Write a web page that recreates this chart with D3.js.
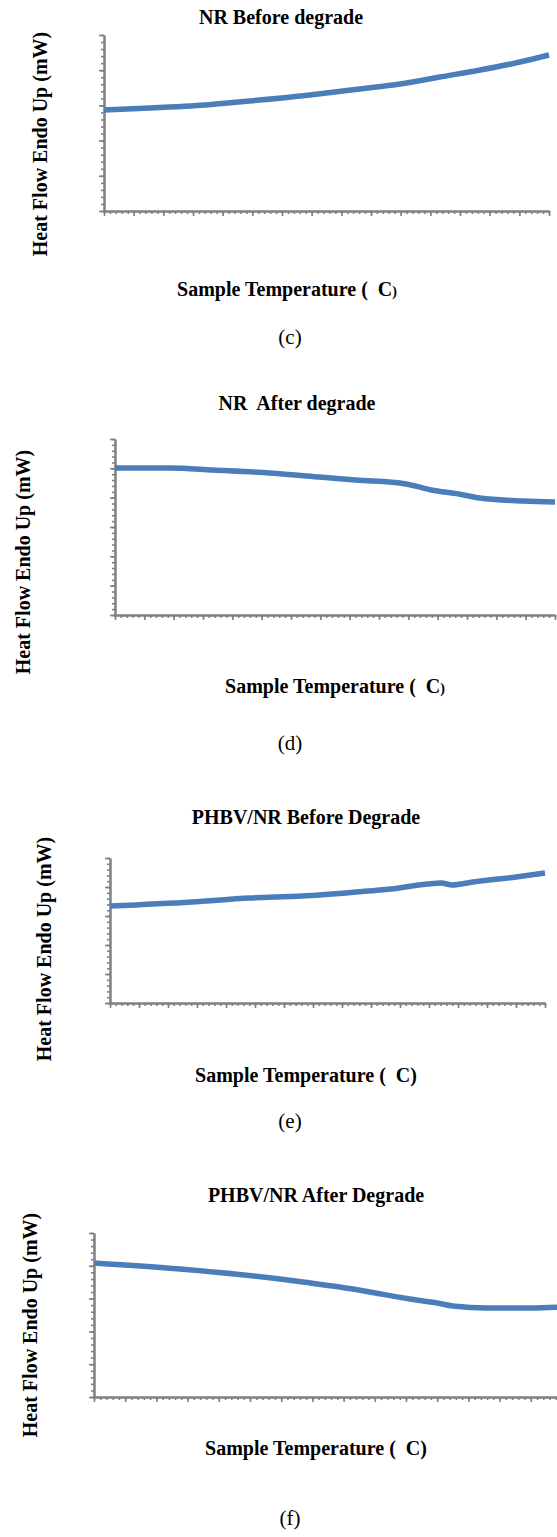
<!DOCTYPE html>
<html>
<head>
<meta charset="utf-8">
<script src="https://cdn.jsdelivr.net/npm/d3@7"></script>
<style>
  body { margin: 0; background: #fff; }
  text { font-family: "Liberation Serif", "Times New Roman", serif; fill: #000; white-space: pre; }
</style>
</head>
<body>
<div id="chart"></div>
<script>
// DSC traces (x in minor-tick units, y in minor-tick units)
const tempC = [0, 7.75, 14.5, 24.6, 34.7, 43.1, 49.9, 56.6, 63.4, 70.1, 75];
const flowC = [14.35, 14.63, 14.91, 15.63, 16.48, 17.33, 18.04, 19.03, 20.03, 21.16, 22.16];

const tempD = [0, 9.5, 16.7, 26.4, 34.9, 41.0, 49.6, 53.9, 58.6, 62.2, 69.7, 75];
const flowD = [25.06, 25.06, 24.71, 24.2, 23.52, 23.01, 22.33, 21.31, 20.62, 19.94, 19.43, 19.26];

const tempE = [0, 14.1, 24.0, 33.1, 42.4, 48.4, 54.7, 57.1, 59.0, 62.6, 70.0, 75];
const flowE = [16.72, 17.41, 18.10, 18.45, 19.14, 19.66, 20.52, 20.69, 20.34, 20.86, 21.72, 22.41];

const tempF = [0, 13.8, 29.8, 33.5, 41.5, 44.2, 50.6, 55.0, 57.5, 63.0, 69.9, 75];
const flowF = [20.43, 19.51, 17.99, 17.53, 16.46, 16.01, 14.94, 14.33, 13.87, 13.57, 13.57, 13.72];

const titles = ["NR Before degrade", "NR  After degrade", "PHBV/NR Before Degrade", "PHBV/NR After Degrade"];
const tags = ["(c)", "(d)", "(e)", "(f)"];
const yLabel = "Heat Flow Endo Up (mW)";
const xLabel = "Sample Temperature (  C";
const xMax = 75;              // 15 major x ticks, 5 minor each
const yMajorCounts = [5, 6, 5, 5];

const width = 557;
const height = 1537;

const panels = [
  { temp: tempC, flow: flowC, left: 104, right: 549, top: 35, bottom: 211,
    titleX: 281, titleY: 24, xlX: 287, xlY: 296, ylX: 40, ylY: 144, tagY: 344, smallParen: true },
  { temp: tempD, flow: flowD, left: 115, right: 555, top: 439, bottom: 615,
    titleX: 297, titleY: 410, xlX: 335, xlY: 693, ylX: 23, ylY: 562, tagY: 750, smallParen: true },
  { temp: tempE, flow: flowE, left: 110, right: 545, top: 858, bottom: 1003,
    titleX: 306, titleY: 824, xlX: 306, xlY: 1082, ylX: 44, ylY: 949, tagY: 1128, smallParen: false },
  { temp: tempF, flow: flowF, left: 94, right: 562, top: 1233, bottom: 1397,
    titleX: 316, titleY: 1202, xlX: 316, xlY: 1455, ylX: 30, ylY: 1325, tagY: 1525, smallParen: false }
];

const svg = d3.select("#chart").append("svg")
  .attr("width", width)
  .attr("height", height)
  .attr("viewBox", [0, 0, width, height]);

svg.append("rect").attr("width", width).attr("height", height).attr("fill", "#fff");

const axisColor = "#808080";

panels.forEach((p, i) => {
  const yMax = yMajorCounts[i] * 5;
  const x = d3.scaleLinear().domain([0, xMax]).range([p.left, p.right]);
  const y = d3.scaleLinear().domain([0, yMax]).range([p.bottom, p.top]);

  const g = svg.append("g");

  // minor ticks
  g.append("g")
    .attr("transform", `translate(0,${p.bottom})`)
    .call(d3.axisBottom(x).tickValues(d3.range(0, xMax + 1)).tickSize(3).tickSizeOuter(0).tickFormat(""));
  g.append("g")
    .attr("transform", `translate(${p.left},0)`)
    .call(d3.axisLeft(y).tickValues(d3.range(0, yMax + 1)).tickSize(3).tickSizeOuter(0).tickFormat(""));
  // major ticks
  g.append("g")
    .attr("transform", `translate(0,${p.bottom})`)
    .call(d3.axisBottom(x).tickValues(d3.range(0, xMax + 1, 5)).tickSize(5).tickSizeOuter(0).tickFormat(""));
  g.append("g")
    .attr("transform", `translate(${p.left},0)`)
    .call(d3.axisLeft(y).tickValues(d3.range(0, yMax + 1, 5)).tickSize(5).tickSizeOuter(0).tickFormat(""));

  g.selectAll(".domain").attr("stroke", axisColor).attr("stroke-width", 2);
  g.selectAll(".tick line").attr("stroke", axisColor).attr("stroke-width", 1.6);

  const line = d3.line()
    .x((d, j) => x(p.temp[j]))
    .y(d => y(d))
    .curve(d3.curveMonotoneX);

  g.append("path")
    .datum(p.flow)
    .attr("fill", "none")
    .attr("stroke", "#4a7ebb")
    .attr("stroke-width", 5.5)
    .attr("d", line);

  g.append("text")
    .attr("x", p.titleX).attr("y", p.titleY)
    .attr("text-anchor", "middle")
    .attr("font-weight", "bold").attr("font-size", 20)
    .text(titles[i]);

  const xl = g.append("text")
    .attr("x", p.xlX).attr("y", p.xlY)
    .attr("text-anchor", "middle")
    .attr("font-weight", "bold").attr("font-size", 20);
  xl.append("tspan").text(xLabel);
  xl.append("tspan").attr("font-size", p.smallParen ? 14 : 20).text(")");

  g.append("text")
    .attr("transform", `translate(${p.ylX},${p.ylY}) rotate(-90)`)
    .attr("text-anchor", "middle")
    .attr("dy", "0.35em")
    .attr("font-weight", "bold").attr("font-size", 20)
    .text(yLabel);

  g.append("text")
    .attr("x", 290).attr("y", p.tagY)
    .attr("text-anchor", "middle")
    .attr("font-size", 21)
    .text(tags[i]);
});
</script>
</body>
</html>
